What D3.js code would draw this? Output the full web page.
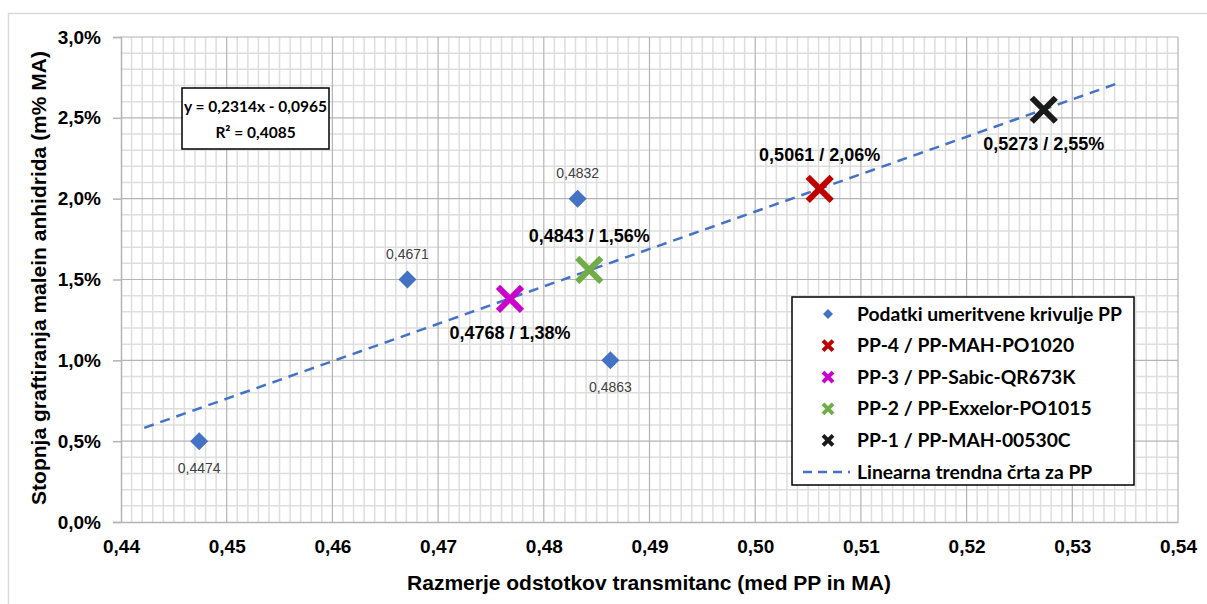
<!DOCTYPE html>
<html>
<head>
<meta charset="utf-8">
<script src="https://cdn.jsdelivr.net/npm/d3@7"></script>
<style>
  body { margin: 0; background: #fff; }
  .tick-label { font-family: "Liberation Sans Narrow", "Arial Narrow", sans-serif; font-weight: bold; font-size: 19px; fill: #000; }
  .axis-title { font-family: "Liberation Sans Narrow", "Arial Narrow", sans-serif; font-weight: bold; font-size: 21px; fill: #000; }
  .pt-label { font-family: "Liberation Sans Narrow", "Arial Narrow", sans-serif; font-size: 14px; fill: #404040; }
  .sample-label { font-family: "Liberation Sans Narrow", "Arial Narrow", sans-serif; font-weight: bold; font-size: 18px; fill: #000; }
  .box-text { font-family: Lato, sans-serif; font-weight: bold; font-size: 15.5px; fill: #000; }
  .leg-text { font-family: Lato, sans-serif; font-weight: bold; font-size: 19.3px; fill: #000; }
</style>
</head>
<body>
<div id="chart"></div>
<script>
// calibration points (blue diamonds)
const calibX = [0.4474, 0.4671, 0.4832, 0.4863];
const calibY = [0.005, 0.015, 0.020, 0.010];
const calibSide = ['below', 'above', 'above', 'below'];

// measured samples (crosses)
const sampleNames = ['PP-4 / PP-MAH-PO1020', 'PP-3 / PP-Sabic-QR673K', 'PP-2 / PP-Exxelor-PO1015', 'PP-1 / PP-MAH-00530C'];
const sampleX = [0.5061, 0.4768, 0.4843, 0.5273];
const sampleY = [0.0206, 0.0138, 0.0156, 0.0255];
const sampleColors = ['#c00000', '#cc00cc', '#70ad47', '#1a1a1a'];
const sampleSide = ['above', 'below', 'above', 'below'];

// linear trend line
const slope = 0.2314, intercept = -0.0965, r2 = 0.4085;
const trendRange = [0.4422, 0.5345];

const xTicks = [0.44, 0.45, 0.46, 0.47, 0.48, 0.49, 0.50, 0.51, 0.52, 0.53, 0.54];
const yTicks = [0, 0.005, 0.010, 0.015, 0.020, 0.025, 0.030];

const calibName = 'Podatki umeritvene krivulje PP';
const trendName = 'Linearna trendna črta za PP';
const xTitle = 'Razmerje odstotkov transmitanc (med PP in MA)';
const yTitle = 'Stopnja graftiranja malein anhidrida (m% MA)';

const W = 1207, H = 604;
const blue = '#4472c4';

const loc = d3.formatLocale({ decimal: ',', thousands: '.', grouping: [3], currency: ['', '€'] });
const fX2 = loc.format('.2f'), fX4 = loc.format('.4f'), fPct1 = loc.format('.1%'), fPct2 = loc.format('.2%');

const svg = d3.select('#chart').append('svg')
  .attr('width', W).attr('height', H);

// outer chart border
svg.append('rect')
  .attr('x', 8.5).attr('y', 13.5).attr('width', 1300).attr('height', 700)
  .attr('fill', 'none').attr('stroke', '#d9d9d9').attr('stroke-width', 1.5);

const x = d3.scaleLinear().domain([0.44, 0.54]).range([121, 1178]);
const y = d3.scaleLinear().domain([0, 0.03]).range([522, 37]);

// minor grid
const minorX = d3.range(441, 540).map(d => d / 1000).filter(d => Math.round(d * 1000) % 10 !== 0);
const minorY = d3.range(1, 30).map(d => d / 1000).filter(d => Math.round(d * 1000) % 5 !== 0);
const grid = svg.append('g');
grid.selectAll('line.mx').data(minorX).enter().append('line')
  .attr('x1', d => x(d)).attr('x2', d => x(d)).attr('y1', y(0)).attr('y2', y(0.03))
  .attr('stroke', '#dedede').attr('stroke-width', 1.5);
grid.selectAll('line.my').data(minorY).enter().append('line')
  .attr('x1', x(0.44)).attr('x2', x(0.54)).attr('y1', d => y(d)).attr('y2', d => y(d))
  .attr('stroke', '#dedede').attr('stroke-width', 1.5);
// major grid
grid.selectAll('line.Mx').data(xTicks.slice(1)).enter().append('line')
  .attr('x1', d => x(d)).attr('x2', d => x(d)).attr('y1', y(0)).attr('y2', y(0.03))
  .attr('stroke', '#b4b4b4').attr('stroke-width', 1.2);
grid.selectAll('line.My').data(yTicks.slice(1)).enter().append('line')
  .attr('x1', x(0.44)).attr('x2', x(0.54)).attr('y1', d => y(d)).attr('y2', d => y(d))
  .attr('stroke', '#b4b4b4').attr('stroke-width', 1.2);

// axes
const yAxis = d3.axisLeft(y).tickValues(yTicks).tickFormat(fPct1).tickSize(8).tickPadding(12);
const gy = svg.append('g').attr('transform', `translate(${x(0.44)},0)`).call(yAxis);
const xAxis = d3.axisBottom(x).tickValues(xTicks).tickFormat(fX2).tickSize(0).tickPadding(18);
const gx = svg.append('g').attr('transform', `translate(0,${y(0)})`).call(xAxis);
[gx, gy].forEach(g => {
  g.attr('font-family', null).attr('font-size', null);
  g.select('.domain').attr('stroke', '#b4b4b4').attr('stroke-width', 1.5);
  g.selectAll('.tick line').attr('stroke', '#b4b4b4').attr('stroke-width', 1.5);
  g.selectAll('.tick text').attr('class', 'tick-label');
});

// axis titles
svg.append('text').attr('class', 'axis-title')
  .attr('x', 649).attr('y', 590).attr('text-anchor', 'middle').text(xTitle);
svg.append('text').attr('class', 'axis-title')
  .attr('transform', 'translate(46,278) rotate(-90)').attr('text-anchor', 'middle').text(yTitle);

// trend line
svg.append('line')
  .attr('x1', x(trendRange[0])).attr('y1', y(slope * trendRange[0] + intercept))
  .attr('x2', x(trendRange[1])).attr('y2', y(slope * trendRange[1] + intercept))
  .attr('stroke', blue).attr('stroke-width', 2.5).attr('stroke-dasharray', '10,7');

// calibration diamonds
const diamond = s => `M0,${-s}L${s},0L0,${s}L${-s},0Z`;
const calib = calibX.map((d, i) => ({ x: d, y: calibY[i], side: calibSide[i] }));
svg.selectAll('path.calib').data(calib).enter().append('path')
  .attr('d', diamond(9))
  .attr('transform', d => `translate(${x(d.x)},${y(d.y)})`)
  .attr('fill', blue);
svg.selectAll('text.calib').data(calib).enter().append('text')
  .attr('class', 'pt-label').attr('text-anchor', 'middle')
  .attr('x', d => x(d.x))
  .attr('y', d => y(d.y) + (d.side === 'above' ? -21 : 32))
  .text(d => fX4(d.x));

// sample crosses
const cross = s => `M${-s},${-s}L${s},${s}M${-s},${s}L${s},${-s}`;
const samples = sampleX.map((d, i) => ({ x: d, y: sampleY[i], c: sampleColors[i], side: sampleSide[i] }));
svg.selectAll('path.smp').data(samples).enter().append('path')
  .attr('d', cross(12))
  .attr('transform', d => `translate(${x(d.x)},${y(d.y)})`)
  .attr('fill', 'none').attr('stroke', d => d.c).attr('stroke-width', 6);
svg.selectAll('text.smp').data(samples).enter().append('text')
  .attr('class', 'sample-label').attr('text-anchor', 'middle')
  .attr('x', d => x(d.x))
  .attr('y', d => y(d.y) + (d.side === 'above' ? -28 : 40))
  .text(d => `${fX4(d.x)} / ${fPct2(d.y)}`);

// equation box
const eq = svg.append('g');
eq.append('rect').attr('x', 182).attr('y', 88).attr('width', 147).attr('height', 61)
  .attr('fill', '#fff').attr('stroke', '#000').attr('stroke-width', 1.5);
eq.append('text').attr('class', 'box-text').attr('x', 255.5).attr('y', 112).attr('text-anchor', 'middle')
  .text(`y = ${loc.format('.4f')(slope)}x - ${loc.format('.4f')(-intercept)}`);
eq.append('text').attr('class', 'box-text').attr('x', 255.5).attr('y', 138).attr('text-anchor', 'middle')
  .text(`R² = ${loc.format('.4f')(r2)}`);

// legend
const leg = svg.append('g');
leg.append('rect').attr('x', 792).attr('y', 297).attr('width', 342).attr('height', 188)
  .attr('fill', '#fff').attr('stroke', '#000').attr('stroke-width', 1.5);
const legItems = [{ name: calibName, type: 'diamond', c: blue }]
  .concat(sampleNames.map((n, i) => ({ name: n, type: 'cross', c: sampleColors[i] })))
  .concat([{ name: trendName, type: 'line', c: blue }]);
const legRow = leg.selectAll('g.row').data(legItems).enter().append('g')
  .attr('transform', (d, i) => `translate(828,${314 + i * 31.6})`);
legRow.filter(d => d.type === 'diamond').append('path').attr('d', diamond(5)).attr('fill', d => d.c);
legRow.filter(d => d.type === 'cross').append('path').attr('d', cross(5))
  .attr('fill', 'none').attr('stroke', d => d.c).attr('stroke-width', 4);
legRow.filter(d => d.type === 'line').append('line')
  .attr('x1', -25).attr('x2', 22).attr('stroke', d => d.c).attr('stroke-width', 2.5).attr('stroke-dasharray', '9,6');
legRow.append('text').attr('class', 'leg-text').attr('x', 29).attr('y', 6.5).text(d => d.name);
</script>
</body>
</html>
